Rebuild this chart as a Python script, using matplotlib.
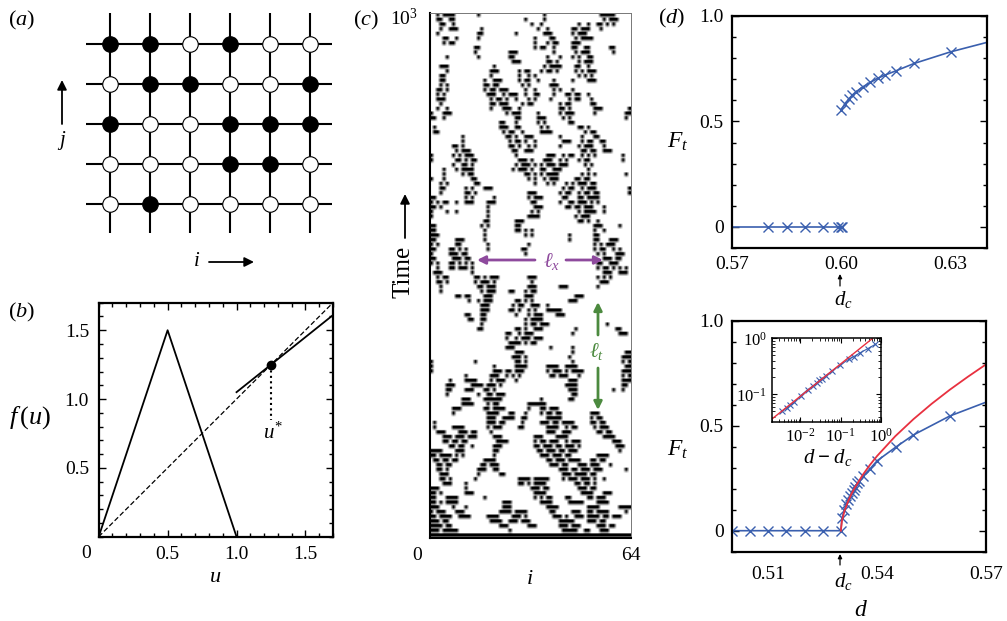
import numpy as np
import matplotlib
matplotlib.use('Agg')
import matplotlib.pyplot as plt
from matplotlib.ticker import MultipleLocator, NullFormatter, LogLocator

plt.rcParams['font.family'] = ['Liberation Serif', 'DejaVu Sans']
plt.rcParams['mathtext.fontset'] = 'custom'
plt.rcParams['mathtext.rm'] = 'Liberation Serif'
plt.rcParams['mathtext.it'] = 'Liberation Serif:italic'
plt.rcParams['mathtext.bf'] = 'Liberation Serif:bold'
plt.rcParams['font.size'] = 14

W, H = 1007, 621
BLUE = '#3a5fae'
RED = '#e8303f'
PURPLE = '#8e4a9d'
GREEN = '#4c8a3f'

# (a) lattice, top row first
lattice = [[1, 1, 0, 1, 0, 0],
           [0, 1, 1, 0, 0, 1],
           [1, 0, 0, 1, 1, 1],
           [0, 0, 0, 1, 1, 0],
           [0, 1, 0, 0, 0, 0]]

# (b) map
tent_u = [0, 0.5, 1.0]
tent_f = [0, 1.5, 0]
diag = [0, 1.7]
branch_u = [1.0, 1.7]
branch_f = [1.05, 1.61]
ustar = 1.25
ustar_low = 0.85

# (c) active sites per time row, top row first, columns 0-63
active_rows = [
    "2 4-7 15 36 54-58", "2-3 6-7 30 36 55 57-59", "3-4 7 32 35 47 50 53-54 56 58", "3 6-8 16 34 37 45-46 48-50 54",
    "2 15-16 27 36-38 45 47-49", "4-5 8 15 33 38-39 46 48-51", "4 6-7 33 37 39-40 45-47", "14-15 33 35-36 39 45-46 49-50 57-58",
    "14 25-27 39 46 48-50 58", "5 15 25-26 37 41 45 47 50-51", "26-28 37-38 40 47 49-51", "3-5 20 36 38-41 46-47 50",
    "5 19-21 28 30-31 35 37-38 40 46 48 50-52", "3-4 19 28 31 33 47 49 51", "3-4 17 20-22 28 30-31 34 39 45 50-52", "3 5 17-18 20-21 29 31 38-40",
    "2-3 5 17 19-20 22-24 30 33 39 41 45", "2 4 18-20 23 25-27 30 33-34 39 43-44 46-47 50", "2-4 19 21-22 24 27 31 33 38 44 46-47 51", "3 19-20 22-24 29 31-32 41 43-44 51-52",
    "2 5 19 23-25 28 41-42 44 52-54 63", "0 4-6 24 26-28 34 41 43-45 52 62-63", "0-1 4 27-28 34-36 42 44 62", "22-23 27 34 36 44-45",
    "1 22-24 27-28 35 37 47-48 50", "1-2 23 25-26 29 35-38 49 51-52", "10 24-25 27 30-32 41 48 52-53", "10 25 27-28 30 33 42-44 48 50-51 54-55",
    "7-8 10 25-26 28 31 33 41 47 49-51 55", "8 10-12 26-27 30-32 48-49 51-52 55-57", "0 7 9 11-13 27 37-39 42 44-45 48 50 52 61", "0 8-9 11 13-14 28-30 32 36-38 41 43 47 49-50 61",
    "7 10-11 13 27 29-31 33 35 37-39 41-43 49 51", "4 8 10-13 26 28-30 32 35-36 39-41 50", "4 10 12-13 30-31 33 35 37-40 48 50 52 62", "0 4 13-14 31 33 36 38-40 46-47 49-50",
    "3 5 14-15 33 37 39 43 45 47-49 51-52", "3-4 11 13 17-19 42 44-45 48 50-52 63", "3 11-12 14 31-33 41 43-44 47 49-50 52-53 63", "0-1 11 13 20 31 33-35 42-43 47-48 50-53",
    "0 2 4-5 8 11-13 18-20 32-33 41 44-45 47-49 51 53", "0-1 3 18 33-35 43-44 46-47 49-51 55", "0 5 8 18 32 34 47 49-52 55", "0 18 31-34 46 48-50",
    "17-18 27-29 47-48 50 53", "0-1 16 18 27-28 52-54 60", "0-1 17 27-28 30 32 52 55", "0-2 17 30 32 44 52-53",
    "0-1 8-10 17 44 52-53 57-59", "0 2 8-9 18 31 52 54 56-58", "0-1 6-7 9 11 18 29-30 52 54-55 58 60", "0 6-8 10-11 30 53 55 59-61",
    "0-1 7-9 11-12 55-57 59-60", "0 2 6-7 9 11 13 53-54 57-59", "2 6-7 9-11 13 53 55-56 58 60 62", "1-3 13 55-57 60-62",
    "2 4-5 14-15 17 19-21 31-33 53 55 57", "2-3 5 14 16-18 20 32 54-56", "3 15-16 18-20 31-33 41-43 53", "3 16 18-20 25-26 30 32-33",
    "8-9 11-12 17-19 30-32 46-48", "12 15 17-19 27-28 30 32 44-46", "16-18 26 28-29 32-34 37", "16-18 25-26 28 31 33 37-41",
    "11-12 16-17 27 31 33-35 40-42", "12-13 16-17 30 32-35", "16 30 32-33 35-37 56", "15-16 27-28 30 33-35 46 59-60",
    "24-25 28 30-32 45 60-62", "24 27 29-31 33-35", "25-28 30 32-33", "24-26 38 45",
    "27-29 45 62-63", "26-28 30 44 61-63", "0 14 27-28 30 45 61 63", "0 20 27-30 37-40 43-46 62-63",
    "0 20-22 24-25 27-29 37 39-41 43 45-48 61-63", "11 19-21 24 26 28 38-39 41-43 47 61 63", "6 11-14 19 21-23 27 44-46 61-63", "5-7 13-16 18-20 22 43-46 61-62",
    "5-6 11-13 17-18 20 44-46 58 61", "5 15 18-19 21-23 45-46", "10-12 17-22 35 44-45", "10-13 18 20-21 31-36",
    "7-9 17-18 20-23 31 35-36 38-40", "7 18-21 25-26 30 35 37-38 40-41 51-53", "18-20 23-26 29-30 37-41 51 53-54", "1 18-20 22-23 29 35-37 39-40 42-45 51-52 54-55",
    "1 7-10 18 20-22 28-29 37-40 43 45-46 52 54-56", "2-4 9-11 13-14 19 37-39 42-44 53-54 56-57", "4-6 8-10 12-14 20-22 33-35 40-43 55-58", "4-5 7-8 10-11 21-24 33 35-36 38-40 43 45-47 58-60",
    "6-7 9-10 13 20-22 33-34 36-38 40-41 43-45 47 59-61", "0-3 8-10 20-21 34-35 37-39 41-42 44-46 60", "0-1 3-6 8 10 20 35-37 39-41 43-44 53-56", "1-2 4-5 7-8 17-20 37-38 40-42 44-47 51-52 54-55",
    "2-3 5-6 16-17 19-21 38-40 42-43 47-49 51-53 57", "2-3 5 15-17 20-21 41-43 45-46 48-50 52-54 62", "3-5 15 22-23 42-44 46-49 51-52", "3-4 6 14 28-31 33-37 42 44-46 48-50 52 55",
    "4-6 11 28-29 31 33-36 46-47 49-50 52", "0-2 11 32-34 36-37 47-49 51-52", "0-1 3 11-13 33-36 48-51 55-57", "0-1 5-8 17 33 35 37-38 43-44 50-51 53-55",
    "0-1 3 5-8 23-25 35-38 44-48 53-56", "0-2 7 11 23-25 37-40 50-53 60-63", "0 2-4 8-10 22-25 27-30 38-39 45-47 50-51 53-56 62", "0-1 3-6 9-12 18-21 26-28 30 39-41 43 46-48 50-53 55-56 58-60",
    "0-2 4-5 19-22 25-27 29-31 41-45 50-52 54-55", "0-3 5-6 22-24 31-33 41-43 45-47 53-55 57-58", "0-2 4-8 25 42-46 49-50 54-56", "0-63",
]
n_cols = 64
# each row of active_rows is drawn as two dark sub rows and one faint
sub_rows = [1, 1, 0.4]

# (d) top
top_line_d = [0.57, 0.58, 0.585, 0.59, 0.595, 0.599, 0.60]
top_line_F = [0, 0, 0, 0, 0, 0, 0]
top_d = [0.60, 0.601, 0.602, 0.603, 0.604, 0.606, 0.608, 0.61, 0.612, 0.615, 0.62, 0.63, 0.64]
top_F = [0.555, 0.585, 0.605, 0.625, 0.64, 0.665, 0.685, 0.705, 0.72, 0.74, 0.775, 0.83, 0.875]

# (d) bottom
bot_d = [0.50, 0.505, 0.51, 0.515, 0.52, 0.525, 0.53, 0.5303, 0.531, 0.5315, 0.532, 0.5325, 0.533,
         0.5335, 0.534, 0.5345, 0.535, 0.5362, 0.538, 0.54, 0.5453, 0.55, 0.56, 0.57]
bot_F = [0, 0, 0, 0, 0, 0, 0, 0.06, 0.10, 0.125, 0.145, 0.165, 0.18,
         0.195, 0.21, 0.225, 0.235, 0.262, 0.294, 0.333, 0.40, 0.456, 0.546, 0.612]
red_d = [0.53, 0.5303, 0.531, 0.532, 0.533, 0.534, 0.536, 0.538, 0.54, 0.545, 0.55, 0.555, 0.56, 0.565, 0.57]
red_F = [0, 0.047, 0.094, 0.14, 0.178, 0.209, 0.265, 0.313, 0.356, 0.45, 0.531, 0.604, 0.671, 0.733, 0.792]

# inset
ins_x = [0.00341, 0.00455, 0.00552, 0.00708, 0.0102, 0.01525, 0.0211, 0.0256, 0.0299, 0.0355, 0.043,
         0.0607, 0.098, 0.158, 0.211, 0.31, 0.473, 0.736]
ins_y = [0.0495, 0.0568, 0.0634, 0.0718, 0.0946, 0.121, 0.143, 0.16, 0.178, 0.191, 0.216,
         0.259, 0.332, 0.42, 0.469, 0.553, 0.652, 0.78]
ins_red_x = [0.002, 0.63]
ins_red_y = [0.0366, 1.0]


def px_axes(left, top, right, bottom):
    return fig.add_axes([left / W, 1 - bottom / H, (right - left) / W, (bottom - top) / H])


def expand(row):
    cols = []
    for part in row.split():
        if '-' in part:
            a, b = part.split('-')
            cols.extend(range(int(a), int(b) + 1))
        else:
            cols.append(int(part))
    return cols


def frame(ax, lw=1.6):
    for s in ax.spines.values():
        s.set_linewidth(lw)


fig = plt.figure(figsize=(W / 100, H / 100), dpi=100)

# panel a
ax_a = px_axes(86, 13, 332, 233)
ax_a.set_xlim(-0.6, 5.55)
ax_a.set_ylim(-0.725, 4.775)
ax_a.axis('off')
states = np.array(lattice)[::-1]
for j in range(states.shape[0]):
    ax_a.axhline(j, color='k', lw=1.5, zorder=1)
for i in range(states.shape[1]):
    ax_a.axvline(i, color='k', lw=1.5, zorder=1)
jj, ii = np.indices(states.shape)
ax_a.scatter(ii[states == 1], jj[states == 1], s=125, c='k', edgecolors='k', linewidths=0.8, zorder=2)
ax_a.scatter(ii[states == 0], jj[states == 0], s=125, c='w', edgecolors='k', linewidths=0.8, zorder=2)

# panel b
ax_b = px_axes(98.7, 302.7, 333, 536.7)
ax_b.plot(tent_u, tent_f, 'k-', lw=1.3)
ax_b.plot(diag, diag, 'k--', lw=0.9, dashes=(4, 2))
ax_b.plot(branch_u, branch_f, 'k-', lw=1.3)
ax_b.plot([ustar, ustar], [ustar, ustar_low], 'k:', lw=1.5, dashes=(1, 1.6))
ax_b.plot([ustar], [ustar], 'o', color='k', ms=6)
ax_b.set_xlim(0, 1.7)
ax_b.set_ylim(0, 1.7)
ax_b.set_xticks([0.5, 1.0, 1.5], ['0.5', '1.0', '1.5'])
ax_b.set_yticks([0.5, 1.0, 1.5], ['0.5', '1.0', '1.5'])
ax_b.xaxis.set_minor_locator(MultipleLocator(0.1))
ax_b.yaxis.set_minor_locator(MultipleLocator(0.1))
ax_b.tick_params(which='major', direction='in', top=True, right=True, length=5, width=1, labelsize=14)
ax_b.tick_params(which='minor', direction='in', top=True, right=True, length=3, width=1)
ax_b.tick_params(axis='x', pad=7)
ax_b.tick_params(axis='y', pad=7)
frame(ax_b)

# panel c
grid = np.zeros((len(active_rows) * len(sub_rows), n_cols))
for r, row in enumerate(active_rows):
    for k, on in enumerate(sub_rows):
        grid[r * len(sub_rows) + k, expand(row)] = on
ax_c = px_axes(430, 13, 631, 538)
ax_c.imshow(grid, cmap='gray_r', aspect='auto', interpolation='bilinear', vmin=0, vmax=1,
            extent=(0, 64, 0, 1000))
ax_c.set_xticks([])
ax_c.set_yticks([])
ax_c.spines['left'].set_linewidth(1.5)
ax_c.spines['bottom'].set_linewidth(1.5)
ax_c.spines['top'].set_linewidth(0.7)
ax_c.spines['right'].set_linewidth(0.7)
ax_c.spines['top'].set_color('#777777')
ax_c.spines['right'].set_color('#777777')

# panel d top
ax_t = px_axes(732, 16, 987, 248)
ax_t.plot(top_line_d, top_line_F, '-', color=BLUE, lw=1.2)
ax_t.plot(top_d, top_F, '-', color=BLUE, lw=1.2)
ax_t.plot(top_line_d[1:], top_line_F[1:], 'x', color=BLUE, ms=7, mew=1)
ax_t.plot([0.6001], [0], 'x', color=BLUE, ms=7, mew=1)
ax_t.plot(top_d[:-1], top_F[:-1], 'x', color=BLUE, ms=7, mew=1)
ax_t.set_xlim(0.57, 0.64)
ax_t.set_ylim(-0.1, 1.0)
ax_t.set_xticks([0.57, 0.60, 0.63], ['0.57', '0.60', '0.63'])
ax_t.set_yticks([0, 0.5, 1.0], ['0', '0.5', '1.0'])
ax_t.yaxis.set_minor_locator(MultipleLocator(0.1))
ax_t.tick_params(axis='x', length=0, pad=6, labelsize=14)
ax_t.tick_params(axis='y', which='major', direction='in', right=True, length=5, width=1, pad=6, labelsize=14)
ax_t.tick_params(axis='y', which='minor', direction='in', right=True, length=3, width=1)
frame(ax_t)

# panel d bottom
ax_d = px_axes(732, 320.7, 986, 551.7)
ax_d.plot(bot_d, bot_F, '-', color=BLUE, lw=1.2)
ax_d.plot(bot_d[:-1], bot_F[:-1], 'x', color=BLUE, ms=7, mew=1)
ax_d.plot(red_d, red_F, '-', color=RED, lw=1.3)
ax_d.set_xlim(0.50, 0.57)
ax_d.set_ylim(-0.1, 1.0)
ax_d.set_xticks([0.51, 0.54, 0.57], ['0.51', '0.54', '0.57'])
ax_d.set_yticks([0, 0.5, 1.0], ['0', '0.5', '1.0'])
ax_d.yaxis.set_minor_locator(MultipleLocator(0.1))
ax_d.tick_params(axis='x', length=0, pad=10, labelsize=14)
ax_d.tick_params(axis='y', which='major', direction='in', right=True, length=5, width=1, pad=6, labelsize=14)
ax_d.tick_params(axis='y', which='minor', direction='in', right=True, length=3, width=1)
frame(ax_d)

# inset
ax_i = px_axes(772.3, 338.3, 880.7, 422.3)
ax_i.plot(ins_x, ins_y, 'x', color=BLUE, ms=4, mew=0.8)
ax_i.plot(ins_x, ins_y, '-', color=BLUE, lw=0.8)
ax_i.plot(ins_red_x, ins_red_y, '-', color=RED, lw=1)
ax_i.set_xscale('log')
ax_i.set_yscale('log')
ax_i.set_xlim(0.002, 1)
ax_i.set_ylim(0.0316, 1)
ax_i.set_xticks([0.01, 0.1, 1], ['$10^{-2}$', '$10^{-1}$', '$10^{0}$'])
ax_i.set_yticks([0.1, 1], ['$10^{-1}$', '$10^{0}$'])
ax_i.xaxis.set_minor_locator(LogLocator(base=10, subs=np.arange(2, 10) * 0.1, numticks=10))
ax_i.yaxis.set_minor_locator(LogLocator(base=10, subs=np.arange(2, 10) * 0.1, numticks=10))
ax_i.xaxis.set_minor_formatter(NullFormatter())
ax_i.yaxis.set_minor_formatter(NullFormatter())
ax_i.tick_params(which='major', direction='in', top=True, right=True, length=3.5, width=0.8, labelsize=12, pad=4)
ax_i.tick_params(which='minor', direction='in', top=True, right=True, length=2, width=0.6)
frame(ax_i, 1.1)

# overlay in pixel coordinates for labels and arrows
ov = fig.add_axes([0, 0, 1, 1], zorder=10)
ov.set_xlim(0, W)
ov.set_ylim(H, 0)
ov.axis('off')
ov.patch.set_alpha(0)


def label(x, y, s, size=15, **kw):
    ov.text(x, y, s, fontsize=size, ha='center', va='center', **kw)


def arrow(x0, y0, x1, y1, color='k', lw=1.3, ms=14):
    ov.annotate('', xy=(x1, y1), xytext=(x0, y0),
                arrowprops=dict(arrowstyle='-|>', color=color, lw=lw, mutation_scale=ms,
                                shrinkA=0, shrinkB=0))


label(22, 20, r'$(a)$', 16)
label(22, 312, r'$(b)$', 16)
label(366, 20, r'$(c)$', 16)
label(672, 18, r'$(d)$', 16)

arrow(62, 124, 62, 80)
label(62, 140, r'$j$')
label(197, 262, r'$i$')
arrow(209, 262, 254, 262)

label(86, 553, '0', 14)
label(215, 578, r'$u$', 16)
label(30, 418, r'$f\,(u)$', 19)
label(273, 433, r'$u^{*}$', 15)

label(404, 18, r'$10^{3}$', 14)
label(403, 272, 'Time', 18, rotation=90)
arrow(405, 238, 405, 194)
label(417, 555, '0', 14)
label(631, 555, '64', 14)
label(530, 580, r'$i$', 16)

arrow(535, 260, 477, 260, PURPLE, 2, 12)
arrow(566, 260, 603, 260, PURPLE, 2, 12)
label(552, 261, r'$\ell_x$', 15, color=PURPLE)
arrow(598, 335, 598, 302, GREEN, 2, 12)
arrow(598, 368, 598, 410, GREEN, 2, 12)
label(597, 351, r'$\ell_t$', 15, color=GREEN)

label(678, 142, r'$F_t$', 17)
label(678, 450, r'$F_t$', 17)
label(843, 300, r'$d_c$', 15)
arrow(840, 286, 840, 274, lw=0.9, ms=6)
label(843, 582, r'$d_c$', 15)
arrow(840, 565, 840, 554, lw=0.9, ms=6)
label(861, 610, r'$d$', 17)
label(828, 457, r'$d\;\mathbf{-}\;d_c$', 15)

fig.savefig('out.png', dpi=100)
